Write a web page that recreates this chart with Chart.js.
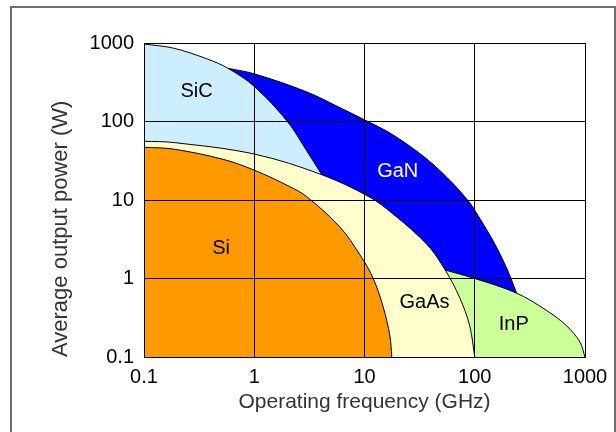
<!DOCTYPE html>
<html>
<head>
<meta charset="utf-8">
<script src="https://cdn.jsdelivr.net/npm/chart.js@4/dist/chart.umd.min.js"></script>
<style>
  body { margin: 0; background: #fff; }
  #wrap { width: 616px; height: 432px; }
</style>
</head>
<body>
<div id="wrap"><canvas id="power-chart" width="616" height="432"></canvas></div>
<script>
// Boundary curves, [frequency GHz, power W]
const sicCurve  = [[0.1, 970], [0.185, 860], [0.37, 630], [0.58, 475], [1, 280], [2, 100], [3, 42], [4.1, 21]];
const ganCurve  = [[0.58, 475], [1, 405], [3, 238], [6, 150], [10, 105], [18, 68], [37, 33], [64, 16], [90, 9.2], [100, 7.4], [147, 3], [195, 1.35], [240, 0.65]];
const inpCurve  = [[54, 1.28], [100, 1], [240, 0.65], [450, 0.39], [680, 0.25], [900, 0.155], [1000, 0.1]];
const gaasCurve = [[0.1, 56], [0.185, 54], [1, 38.5], [4.1, 21], [11, 11], [18, 6.7], [37, 2.7], [54, 1.28], [73, 0.57], [90, 0.25], [100, 0.1]];
const siCurve   = [[0.1, 47], [0.185, 44.5], [0.52, 33], [1, 24], [2.1, 14.8], [3, 11], [6, 4.5], [9.1, 2.0], [12, 1], [14.8, 0.43], [17, 0.185], [17.7, 0.1]];

const freqTicks  = [0.1, 1, 10, 100, 1000];
const powerTicks = [0.1, 1, 10, 100, 1000];

// region names and where their labels sit (data units)
const regionLabels = [
    { text: 'SiC',  x: 0.3,  y: 240,  color: '#000' },
    { text: 'GaN',  x: 20,   y: 23,   color: '#fff' },
    { text: 'Si',   x: 0.5,  y: 2.4,  color: '#000' },
    { text: 'GaAs', x: 35,   y: 0.49, color: '#000' },
    { text: 'InP',  x: 226,  y: 0.26, color: '#000' }
];

const font = 'Liberation Sans, Arial, Helvetica, sans-serif';
const toPts = arr => arr.map(p => ({ x: p[0], y: p[1] }));

function region(label, pts, color, order) {
    return {
        label: label,
        data: toPts(pts),
        backgroundColor: color,
        borderColor: '#000',
        borderWidth: 1,
        pointRadius: 0,
        fill: 'start',
        tension: 0.35,
        order: order
    };
}

const framePlugin = {
    id: 'frame',
    beforeDraw(chart) {
        const ctx = chart.ctx;
        ctx.save();
        ctx.strokeStyle = '#6e6e6e';
        ctx.lineWidth = 2;
        ctx.strokeRect(11, 7, 604, 500);
        ctx.restore();
    }
};

const labelPlugin = {
    id: 'regionLabels',
    afterDatasetsDraw(chart) {
        const ctx = chart.ctx;
        const xs = chart.scales.x, ys = chart.scales.y;
        ctx.save();
        ctx.font = '20px ' + font;
        ctx.textAlign = 'center';
        ctx.textBaseline = 'middle';
        regionLabels.forEach(l => {
            ctx.fillStyle = l.color;
            ctx.fillText(l.text, xs.getPixelForValue(l.x), ys.getPixelForValue(l.y));
        });
        ctx.restore();
    }
};

const ctx = document.getElementById('power-chart').getContext('2d');
const powerChart = new Chart(ctx, {
    type: 'line',
    data: {
        datasets: [
            region('Si', siCurve, '#ff9900', 1),
            region('GaAs', gaasCurve, '#ffffcc', 2),
            region('InP', inpCurve, '#ccff99', 3),
            region('SiC', sicCurve, '#cceeff', 4),
            region('GaN', ganCurve, '#0000ff', 5)
        ]
    },
    options: {
        responsive: false,
        animation: false,
        layout: { padding: { left: 11, top: 43, right: 31, bottom: 0 } },
        plugins: {
            legend: { display: false },
            tooltip: { enabled: false }
        },
        scales: {
            x: {
                type: 'logarithmic',
                min: 0.1,
                max: 1000,
                afterBuildTicks: s => { s.ticks = freqTicks.map(v => ({ value: v })); },
                afterFit: s => { s.height = 75; },
                ticks: {
                    color: '#000',
                    padding: 8,
                    maxRotation: 0,
                    autoSkip: false,
                    font: { family: font, size: 20 },
                    callback: v => String(v)
                },
                grid: { color: '#000', lineWidth: 1, drawTicks: false, z: 1 },
                border: { color: '#000', width: 1, z: 1 },
                title: {
                    display: true,
                    text: 'Operating frequency (GHz)',
                    color: '#333',
                    font: { family: font, size: 21 },
                    padding: { top: 0, bottom: 17 }
                }
            },
            y: {
                type: 'logarithmic',
                min: 0.1,
                max: 1000,
                afterBuildTicks: s => { s.ticks = powerTicks.map(v => ({ value: v })); },
                afterFit: s => { s.width = 133; },
                ticks: {
                    color: '#000',
                    padding: 10,
                    autoSkip: false,
                    font: { family: font, size: 20 },
                    callback: v => String(v)
                },
                grid: { color: '#000', lineWidth: 1, drawTicks: false, z: 1 },
                border: { color: '#000', width: 1, z: 1 },
                title: {
                    display: true,
                    text: 'Average output power (W)',
                    align: 'start',
                    color: '#333',
                    font: { family: font, size: 22 },
                    padding: { top: 37, bottom: 0 }
                }
            }
        }
    },
    plugins: [framePlugin, labelPlugin]
});
</script>
</body>
</html>
